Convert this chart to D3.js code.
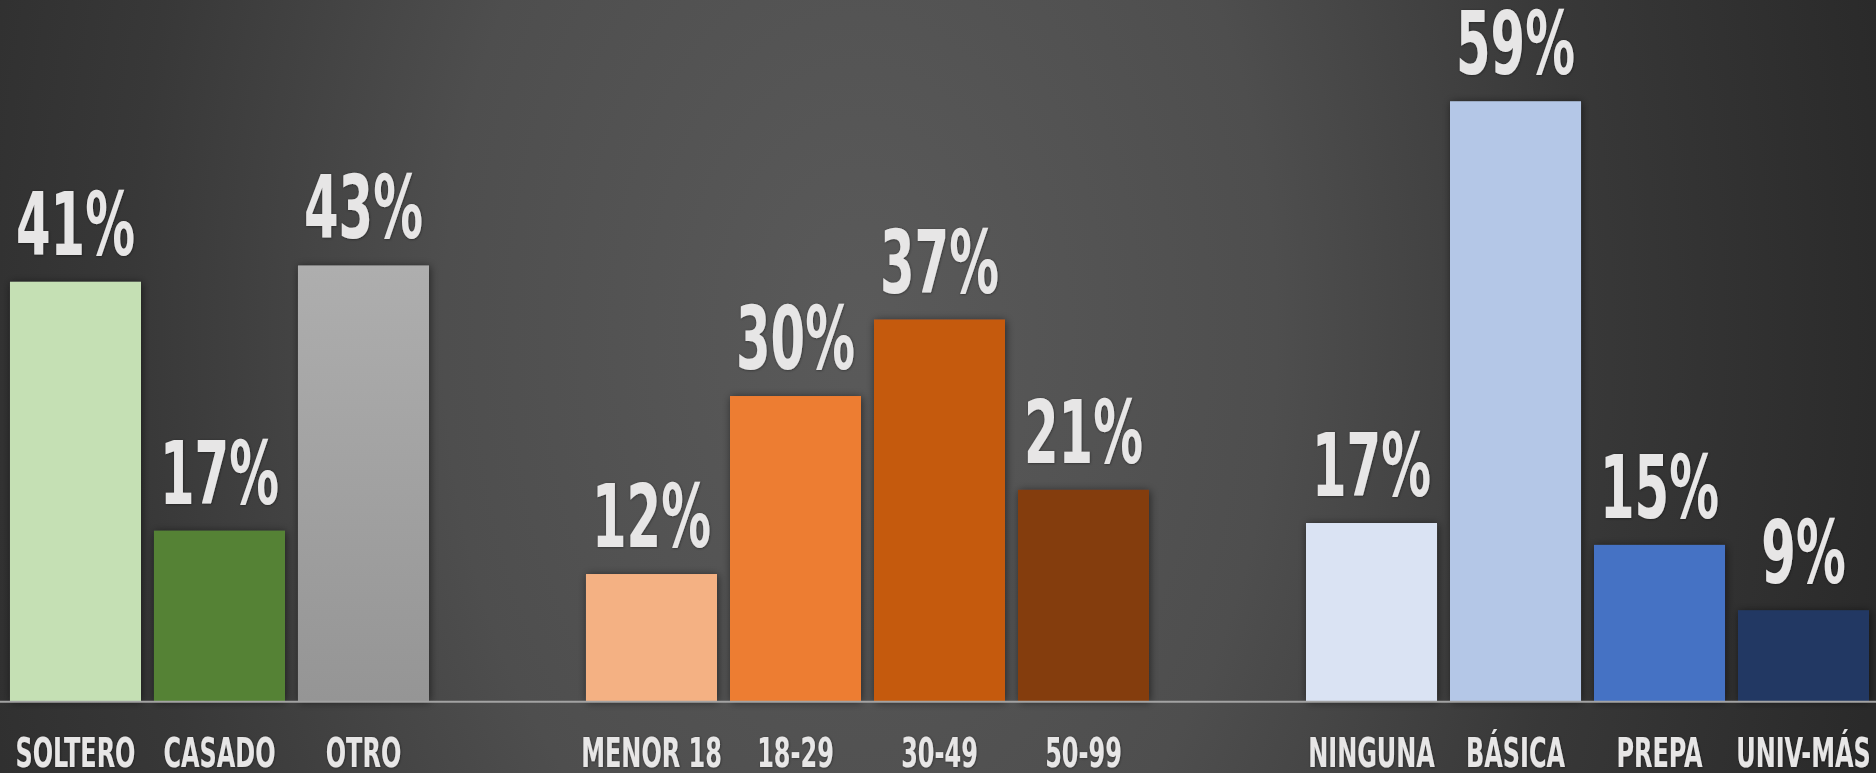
<!DOCTYPE html>
<html>
<head>
<meta charset="utf-8">
<script src="https://cdn.jsdelivr.net/npm/d3@7"></script>
<style>
  html, body { margin: 0; padding: 0; background: #2b2b2b; overflow: hidden; }
  svg { display: block; }
  .lbl { font-family: 'Liberation Sans Narrow', 'DejaVu Sans Condensed', 'DejaVu Sans', sans-serif; font-weight: bold; fill: #e7e6e6; }
</style>
</head>
<body>
<svg id="chart" width="1876" height="773"></svg>
<script>
// ---- data ----
const estadoCivil = ["SOLTERO", "CASADO", "OTRO"];
const estadoCivilValues = [41.1, 16.7, 42.7];
const estadoCivilLabels = ["41%", "17%", "43%"];

const edad = ["MENOR 18", "18-29", "30-49", "50-99"];
const edadValues = [12.45, 29.9, 37.4, 20.7];
const edadLabels = ["12%", "30%", "37%", "21%"];

const escolaridad = ["NINGUNA", "BÁSICA", "PREPA", "UNIV-MÁS"];
const escolaridadValues = [17.45, 58.8, 15.3, 8.9];
const escolaridadLabels = ["17%", "59%", "15%", "9%"];

// ---- styles ----
const estadoCivilColors = ["#C5E0B4", "#548235", "url(#gradGray)"];
const edadColors = ["#F4B183", "#ED7D31", "#C55A11", "#843C0C"];
const escolaridadColors = ["#DAE3F3", "#B4C7E7", "#4472C4", "#203864"];

const W = 1876, H = 773;
const baseY = 701;

const rows = [];
function addGroup(cats, vals, labels, colors) {
  cats.forEach((c, i) => rows.push({ key: c, cat: c, value: vals[i], label: labels[i], color: colors[i] }));
}
addGroup(estadoCivil, estadoCivilValues, estadoCivilLabels, estadoCivilColors);
const domain = [...estadoCivil, "__gap1", ...edad, "__gap2", ...escolaridad];
addGroup(edad, edadValues, edadLabels, edadColors);
addGroup(escolaridad, escolaridadValues, escolaridadLabels, escolaridadColors);

const svg = d3.select("#chart");
const defs = svg.append("defs");

// background radial gradient
const bg = defs.append("radialGradient")
  .attr("id", "bgGrad")
  .attr("gradientUnits", "userSpaceOnUse")
  .attr("cx", 860).attr("cy", 330).attr("r", 1040)
  .attr("gradientTransform", "translate(860,330) scale(1,1.5) translate(-860,-330)");
[[0, "#5a5a5a"], [0.4, "#4e4e4e"], [0.7, "#383838"], [1, "#2a2a2a"]]
  .forEach(([o, c]) => bg.append("stop").attr("offset", o).attr("stop-color", c));

const gg = defs.append("linearGradient").attr("id", "gradGray")
  .attr("x1", 0).attr("y1", 0).attr("x2", 0).attr("y2", 1);
gg.append("stop").attr("offset", 0).attr("stop-color", "#AEAEAE");
gg.append("stop").attr("offset", 1).attr("stop-color", "#959595");

const sh = defs.append("filter").attr("id", "barShadow")
  .attr("x", "-20%").attr("y", "-20%").attr("width", "140%").attr("height", "140%");
sh.append("feDropShadow").attr("dx", 1).attr("dy", 1).attr("stdDeviation", 4)
  .attr("flood-color", "#000").attr("flood-opacity", 0.55);

const tsh = defs.append("filter").attr("id", "txtShadow")
  .attr("x", "-20%").attr("y", "-20%").attr("width", "140%").attr("height", "140%");
tsh.append("feDropShadow").attr("dx", 0.5).attr("dy", 0.5).attr("stdDeviation", 1)
  .attr("flood-color", "#000").attr("flood-opacity", 0.45);

svg.append("rect").attr("width", W).attr("height", H).attr("fill", "url(#bgGrad)");

const x = d3.scaleBand()
  .domain(domain)
  .range([3.5, 1875.5])
  .paddingInner(13 / 144)
  .paddingOuter(6.5 / 144 / (1 - 13 / 144) * 0 + 0.0451);

const y = d3.scaleLinear().domain([0, 60]).range([baseY, baseY - 612]);

// bars
svg.append("g").attr("filter", "url(#barShadow)")
  .selectAll("rect").data(rows).join("rect")
  .attr("x", d => x(d.key))
  .attr("y", d => y(d.value))
  .attr("width", x.bandwidth())
  .attr("height", d => y(0) - y(d.value))
  .attr("fill", d => d.color);

// axis line
const axis = svg.append("g").attr("transform", `translate(0,${baseY + 0.7})`)
  .call(d3.axisBottom(x).tickSize(0).tickFormat(""));
axis.select(".domain").attr("stroke", "#a3a3a3").attr("stroke-width", 2)
  .attr("d", `M0,0H${W}`);

// helper to measure natural text width
function measure(str, size) {
  const t = svg.append("text").attr("class", "lbl").attr("font-size", size).text(str);
  const w = t.node().getComputedTextLength();
  t.remove();
  return w;
}
const valSize = 87, catSize = 41;
const valScale = 119 / measure("30%", valSize);
const catScale = 120 / measure("SOLTERO", catSize);

// value labels
svg.append("g").attr("filter", "url(#txtShadow)")
  .selectAll("text").data(rows).join("text")
  .attr("class", "lbl")
  .attr("font-size", valSize)
  .attr("text-anchor", "middle")
  .attr("transform", d => `translate(${x(d.key) + x.bandwidth() / 2},${y(d.value) - 27}) scale(${valScale},1)`)
  .text(d => d.label);

// category labels
svg.append("g").attr("filter", "url(#txtShadow)")
  .selectAll("text").data(rows).join("text")
  .attr("class", "lbl")
  .attr("font-size", catSize)
  .attr("text-anchor", "middle")
  .attr("transform", d => `translate(${x(d.key) + x.bandwidth() / 2},767) scale(${catScale},1)`)
  .text(d => d.cat);
</script>
</body>
</html>
